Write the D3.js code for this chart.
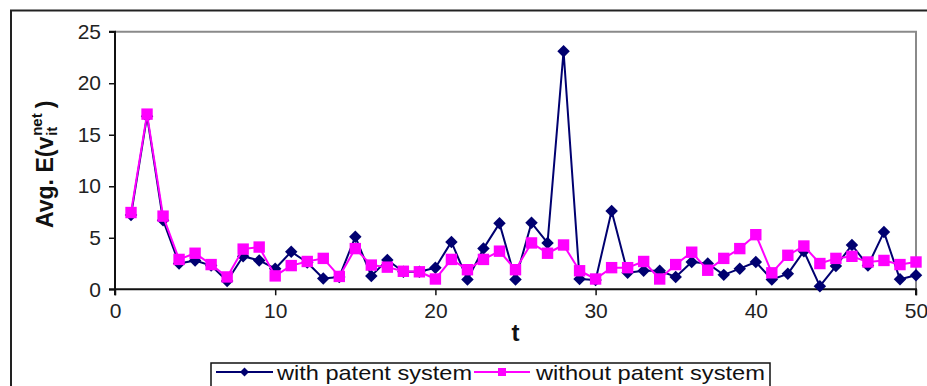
<!DOCTYPE html>
<html>
<head>
<meta charset="utf-8">
<script src="https://cdn.jsdelivr.net/npm/d3@7"></script>
<style>
  html, body { margin: 0; padding: 0; background: #fff; }
  svg { display: block; font-family: "Liberation Sans", Arial, sans-serif; }
</style>
</head>
<body>
<svg id="chart" width="927" height="386"></svg>
<script>
// Period index t = 1..50
const periods = d3.range(1, 51);

// Average expected net value per period, with a patent system
const withPatent = [
  7.2, 16.8, 6.7, 2.5, 2.8, 2.3, 0.8, 3.2, 2.8, 2.0,
  3.65, 2.6, 1.05, 1.2, 5.1, 1.3, 2.85, 1.7, 1.7, 2.1,
  4.6, 0.95, 3.95, 6.4, 0.95, 6.45, 4.5, 23.1, 1.0, 0.9,
  7.6, 1.6, 1.8, 1.8, 1.2, 2.65, 2.5, 1.4, 2.0, 2.65,
  0.95, 1.5, 3.7, 0.3, 2.25, 4.3, 2.3, 5.55, 0.97, 1.36
];

// Average expected net value per period, without a patent system
const withoutPatent = [
  7.45, 17.0, 7.1, 2.9, 3.5, 2.4, 1.2, 3.9, 4.1, 1.3,
  2.3, 2.7, 3.0, 1.25, 3.95, 2.35, 2.15, 1.75, 1.7, 1.0,
  2.9, 1.9, 2.9, 3.7, 1.9, 4.5, 3.5, 4.3, 1.8, 1.0,
  2.1, 2.1, 2.7, 1.0, 2.4, 3.6, 1.85, 3.0, 3.95, 5.3,
  1.6, 3.3, 4.2, 2.5, 3.0, 3.2, 2.65, 2.8, 2.4, 2.65
];

const xTicks = [0, 10, 20, 30, 40, 50];
const yTicks = [0, 5, 10, 15, 20, 25];
const seriesNames = ["with patent system", "without patent system"];

const svg = d3.select("#chart");
const W = 927, H = 386;
const plot = { left: 115, right: 916, top: 31.7, bottom: 289.3 };

const x = d3.scaleLinear().domain([0, 50]).range([plot.left, plot.right]);
const y = d3.scaleLinear().domain([0, 25]).range([plot.bottom, plot.top]);

// outer frame of the figure
svg.append("rect").attr("x", 0).attr("y", 0).attr("width", W).attr("height", H).attr("fill", "#fff");
svg.append("path")
  .attr("d", `M11,${H + 2} L11,10.5 L${W + 2},10.5`)
  .attr("fill", "none").attr("stroke", "#222").attr("stroke-width", 2);

// plot area border (top and right in grey)
svg.append("path")
  .attr("d", `M${plot.left},${plot.top} L${plot.right},${plot.top} L${plot.right},${plot.bottom}`)
  .attr("fill", "none").attr("stroke", "#8a8a8a").attr("stroke-width", 2);

// axes
const yAxis = d3.axisLeft(y).tickValues(yTicks).tickSize(6).tickPadding(8);
const xAxis = d3.axisBottom(x).tickValues(xTicks).tickSize(6).tickPadding(8);

const gy = svg.append("g").attr("transform", `translate(${plot.left},0)`).call(yAxis);
const gx = svg.append("g").attr("transform", `translate(0,${plot.bottom})`).call(xAxis);
[gx, gy].forEach(g => {
  g.select(".domain").attr("stroke", "#111").attr("stroke-width", 2);
  g.selectAll(".tick line").attr("stroke", "#111").attr("stroke-width", 1.5);
  g.selectAll(".tick text")
    .attr("fill", "#222")
    .style("font-size", "21px")
    .style("font-family", '"Liberation Sans", Arial, sans-serif');
});
gy.select(".domain").attr("d", `M-6,${plot.top}H0V${plot.bottom}H-6`);
gx.select(".domain").attr("d", `M${plot.left},6V0H${plot.right}V6`);

// x axis title
svg.append("text")
  .attr("x", x(25)).attr("y", 341)
  .attr("text-anchor", "middle")
  .style("font-size", "24px").style("font-weight", "bold").attr("fill", "#111")
  .text("t");

// y axis title: Avg. E(v_it^net)
const yt = svg.append("g").attr("transform", "translate(53,228) rotate(-90)")
  .style("font-weight", "bold").attr("fill", "#111");
const main = yt.append("text").attr("x", 0).attr("y", 0).style("font-size", "23px").text("Avg. E(");
const w1 = main.node().getComputedTextLength();
const vt = yt.append("text").attr("x", w1).attr("y", 0).style("font-size", "23px").text("v");
const wv = vt.node().getComputedTextLength();
const sup = yt.append("text").attr("x", w1 + wv + 1).attr("y", -11).style("font-size", "15px").text("net");
const sub = yt.append("text").attr("x", w1 + wv + 1).attr("y", 4).style("font-size", "15px").text("it");
const ws = Math.max(sup.node().getComputedTextLength(), sub.node().getComputedTextLength());
yt.append("text").attr("x", w1 + wv + ws + 6).attr("y", 0).style("font-size", "23px").text(")");

// series
const blue = "#000070", pink = "#ff00ff";
const line = d3.line().x((d, i) => x(periods[i])).y(d => y(d));

const diamond = d3.symbol().type(d3.symbolSquare).size(78);
const square = d3.symbol().type(d3.symbolSquare).size(130);

function drawSeries(values, color, sym, rotate) {
  const g = svg.append("g");
  g.append("path").datum(values)
    .attr("d", line).attr("fill", "none")
    .attr("stroke", color).attr("stroke-width", 2).attr("stroke-linejoin", "round");
  g.selectAll("path.m").data(values).join("path").attr("class", "m")
    .attr("d", sym)
    .attr("transform", (d, i) => `translate(${x(periods[i])},${y(d)}) rotate(${rotate})`)
    .attr("fill", color);
}
drawSeries(withPatent, blue, diamond, 45);
drawSeries(withoutPatent, pink, square, 0);

// legend
const lg = svg.append("g");
lg.append("rect").attr("x", 211).attr("y", 363).attr("width", 559).attr("height", 40)
  .attr("fill", "#fff").attr("stroke", "#111").attr("stroke-width", 1.5);
const legendItems = [
  { name: seriesNames[0], color: blue, sym: d3.symbol().type(d3.symbolSquare).size(40), rot: 45, x0: 216, x1: 273, tx: 277, tw: 195 },
  { name: seriesNames[1], color: pink, sym: d3.symbol().type(d3.symbolSquare).size(64), rot: 0, x0: 474, x1: 530, tx: 536, tw: 229 }
];
legendItems.forEach(it => {
  const ly = 372;
  lg.append("line").attr("x1", it.x0).attr("x2", it.x1).attr("y1", ly).attr("y2", ly)
    .attr("stroke", it.color).attr("stroke-width", 2);
  lg.append("path").attr("d", it.sym)
    .attr("transform", `translate(${(it.x0 + it.x1) / 2},${ly}) rotate(${it.rot})`)
    .attr("fill", it.color);
  lg.append("text").attr("x", it.tx).attr("y", 380)
    .attr("textLength", it.tw).attr("lengthAdjust", "spacingAndGlyphs")
    .style("font-size", "21px").attr("fill", "#111").text(it.name);
});
</script>
</body>
</html>
